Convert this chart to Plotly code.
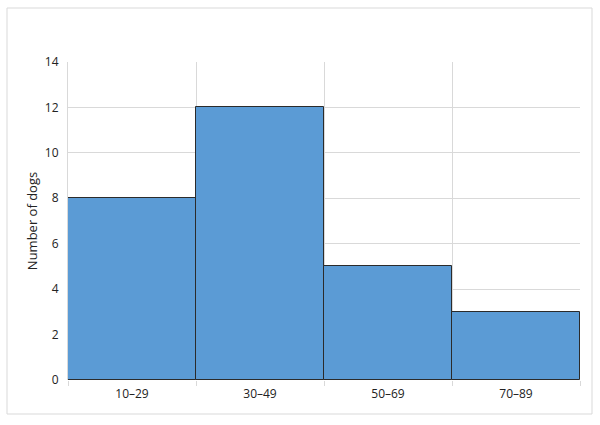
import plotly.graph_objects as go

categories = ["10–29", "30–49", "50–69", "70–89"]
counts = [8, 12, 5, 3]
y_ticks = [0, 2, 4, 6, 8, 10, 12, 14]

fig = go.Figure(go.Bar(
    x=categories, y=counts,
    marker=dict(color="#5B9BD5", line=dict(color="#2b2b2b", width=1)),
))

L, R, T, B = 68, 20, 62, 45
W, H = 600, 425
pw, ph = W - L - R, H - T - B

def px_x(x):
    return (x - L) / pw

def px_y(y):
    return (H - B - y) / ph

fig.update_layout(
    width=W, height=H,
    margin=dict(l=L, r=R, t=T, b=B),
    paper_bgcolor="white", plot_bgcolor="white",
    bargap=0,
    showlegend=False,
    font=dict(family="Open Sans, Liberation Sans, sans-serif", size=12, color="#222"),
    xaxis=dict(
        type="category", tickson="boundaries", ticks="outside", ticklen=5,
        tickcolor="#d9d9d9", showgrid=True, gridcolor="#d9d9d9", gridwidth=1,
        range=[-0.5, 3.5], showline=False, zeroline=False,
        tickfont=dict(size=12), ticklabelstandoff=5,
    ),
    yaxis=dict(
        range=[0, 14], tickvals=y_ticks, showgrid=True, gridcolor="#d9d9d9",
        zeroline=False, showline=True, linecolor="#d9d9d9", mirror=False,
        title=dict(text="Number of dogs", font=dict(size=13), standoff=4),
        tickfont=dict(size=12), ticks="", ticklabelstandoff=6,
    ),
    shapes=[dict(
        type="rect", xref="paper", yref="paper",
        x0=px_x(7), x1=px_x(592), y0=px_y(414), y1=px_y(8),
        line=dict(color="#d9d9d9", width=1), fillcolor="rgba(0,0,0,0)", layer="below",
    )],
)

fig.write_html("out.html", config={"displayModeBar": False},
               post_script="document.body.style.margin='0';")
